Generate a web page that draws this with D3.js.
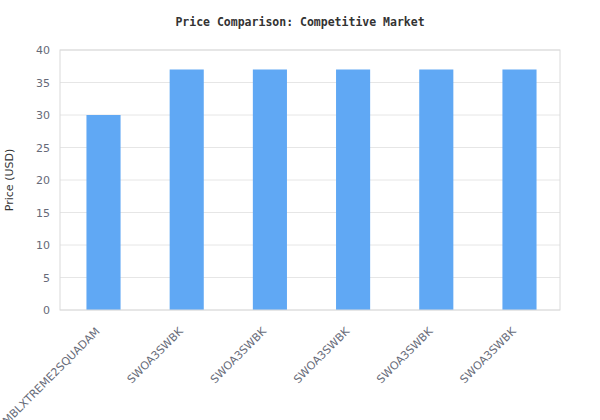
<!DOCTYPE html>
<html>
<head>
<meta charset="utf-8">
<script src="https://cdn.jsdelivr.net/npm/d3@7"></script>
<style>
html,body{margin:0;padding:0;background:#fff;}
svg{display:block;}
</style>
</head>
<body>
<svg id="chart" width="600" height="420"></svg>
<script>
const categories = ["MBLXTREME2SQUADAM","SWOA3SWBK","SWOA3SWBK","SWOA3SWBK","SWOA3SWBK","SWOA3SWBK"];
const prices = [30, 37, 37, 37, 37, 37];
const yTicks = [0, 5, 10, 15, 20, 25, 30, 35, 40];
const titleText = "Price Comparison: Competitive Market";
const yLabel = "Price (USD)";

const svg = d3.select("#chart");
const m = {left: 60, right: 40, top: 50, bottom: 110};
const W = 600, H = 420;
const iw = W - m.left - m.right, ih = H - m.top - m.bottom;

const x = d3.scaleBand().domain(d3.range(categories.length)).range([0, iw])
  .paddingInner(0.59).paddingOuter(0.3).align(0.53);
const y = d3.scaleLinear().domain([0, 40]).range([ih, 0]);

const g = svg.append("g").attr("transform", `translate(${m.left},${m.top})`);

// grid
g.selectAll("line.grid").data(yTicks).join("line")
  .attr("x1", 0).attr("x2", iw)
  .attr("y1", d => y(d)).attr("y2", d => y(d))
  .attr("stroke", "#e6e6e6").attr("stroke-width", 1);

// bars
g.selectAll("rect.bar").data(prices).join("rect")
  .attr("class", "bar")
  .attr("x", (d, i) => x(i))
  .attr("width", x.bandwidth())
  .attr("y", d => y(d))
  .attr("height", d => ih - y(d))
  .attr("fill", "#60a8f4");

// frame
g.append("rect").attr("x", 0).attr("y", 0).attr("width", iw).attr("height", ih)
  .attr("fill", "none").attr("stroke", "#dadada").attr("stroke-width", 1);

// y axis
const ya = g.append("g").call(d3.axisLeft(y).tickValues(yTicks).tickSize(0).tickPadding(10));
ya.select(".domain").remove();
ya.selectAll("text").attr("font-family", "DejaVu Sans, sans-serif").attr("font-size", 11).attr("fill", "#666a78");

// x axis
const xa = g.append("g").attr("transform", `translate(0,${ih})`)
  .call(d3.axisBottom(x).tickFormat(i => categories[i]).tickSize(0).tickPadding(0));
xa.select(".domain").remove();
xa.selectAll("text")
  .attr("font-family", "DejaVu Sans, sans-serif").attr("font-size", 11).attr("fill", "#666a78")
  .attr("text-anchor", "end")
  .attr("dy", null).attr("y", 0)
  .attr("transform", "translate(-3,22) rotate(-45)");

// title
svg.append("text").attr("x", 300).attr("y", 26).attr("text-anchor", "middle")
  .attr("font-family", "DejaVu Sans Mono, monospace").attr("font-weight", "bold")
  .attr("font-size", 11.5).attr("fill", "#333").text(titleText);

// y label
svg.append("text").attr("transform", `translate(13,${m.top + ih / 2}) rotate(-90)`)
  .attr("text-anchor", "middle").attr("font-family", "DejaVu Sans, sans-serif")
  .attr("font-size", 11).attr("fill", "#333").text(yLabel);
</script>
</body>
</html>
